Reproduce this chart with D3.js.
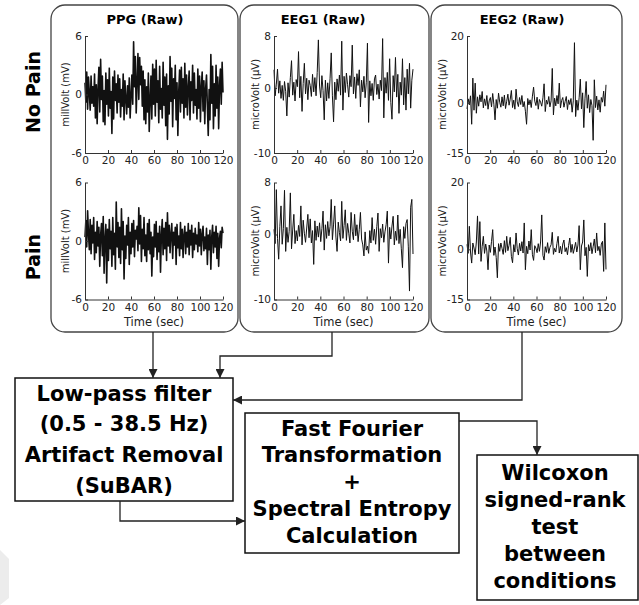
<!DOCTYPE html>
<html>
<head>
<meta charset="utf-8">
<script src="https://cdn.jsdelivr.net/npm/d3@7"></script>
<style>
    body { margin: 0; background: #fff; }
    text { font-family: "DejaVu Sans", Verdana, sans-serif; }
</style>
</head>
<body>
<div id="chart"></div>
<script>
// signal traces (values spread evenly over 0 - 120 sec)
var ppgNoPain = [
    1.2,-0.8,2.3,-1.5,1.8,0.2,-1.6,1.9,-0.9,0.8, -1.2,2.1,-2.4,1.0,-3.0,0.6,2.8,-1.8,3.6,-0.5,
    1.9,-2.8,0.4,-3.1,2.2,-1.0,1.5,-2.2,2.7,-1.4, 0.3,-4.0,1.8,-2.5,2.4,-0.6,1.1,-1.9,2.0,-0.8,
    1.6,-2.3,0.5,-1.2,2.1,-2.6,1.4,-0.4,-2.0,0.9, -1.3,1.7,-2.4,-0.2,2.0,-1.0,5.4,0.8,3.9,-1.9,
    1.2,4.2,-0.5,3.8,1.0,2.9,-1.2,2.4,-2.6,1.5, -3.0,0.8,-1.8,2.2,-3.8,-0.6,1.9,-2.5,3.1,-1.0,
    2.6,-2.2,3.5,-0.8,1.4,-2.9,2.9,-1.5,0.6,-2.4, 3.3,-1.1,1.8,-3.2,2.1,-4.6,0.9,-2.0,3.9,-0.7,
    2.7,-3.3,1.6,-0.4,3.0,-2.6,1.2,-4.2,0.3,2.5, -1.8,2.8,-0.9,1.6,-2.4,3.2,-1.3,2.0,-2.1,0.7,
    2.4,-2.6,1.3,-0.6,3.0,-1.9,2.2,-1.1,0.5,-2.5, 2.6,-1.4,1.9,-2.8,0.8,2.3,-1.7,1.4,-3.0,0.6,
    2.0,-1.2,-4.2,0.5,-2.6,4.1,-0.9,2.9,-3.5,1.1, -2.2,3.0,-1.4,1.8,-3.5,0.9,2.6,-1.0,3.3,0.2
];
var ppgPain = [
    0.4,2.1,-0.6,3.1,0.8,-0.9,2.2,-1.3,1.6,-0.2, 2.4,-1.9,0.9,-1.2,2.0,-0.5,1.4,-2.6,0.6,1.8,
    -1.5,2.5,-3.3,0.2,1.7,-4.3,1.2,-2.0,2.2,-0.8, 1.0,-2.6,2.4,-1.4,0.8,-2.9,4.0,-0.6,1.9,-1.7,
    1.4,-2.3,3.3,-0.9,2.0,-3.9,0.5,-1.8,1.6,-0.4, 2.4,-2.4,0.9,-1.3,1.8,-0.6,2.1,-1.6,1.1,0.2,
    1.5,-1.0,3.4,-0.3,2.6,-2.1,1.2,-0.8,2.4,-1.5, 0.6,-2.1,1.8,-0.9,2.2,-1.3,0.9,-3.6,0.4,-1.6,
    1.7,-0.6,2.0,-1.9,0.8,-1.1,1.5,-3.2,0.6,2.2, -1.4,1.3,-0.8,1.9,-2.0,2.9,-0.5,1.6,-1.2,0.7,
    1.8,-1.8,0.9,-0.4,1.4,-2.4,1.7,-0.7,0.5,-1.5, 1.9,-0.8,1.2,-1.7,0.6,1.5,-1.3,0.9,-0.6,1.8,
    -1.4,1.1,-0.4,1.6,-1.7,0.8,-0.9,1.3,-0.3,0.6, -1.1,1.9,-0.5,1.2,-1.4,0.7,1.5,-1.0,0.4,-0.8,
    1.3,-2.4,0.6,-0.9,1.1,-2.9,0.4,1.6,-1.2,0.9, -0.6,1.5,-1.8,0.8,-2.6,0.3,1.0,-0.7,1.4,0.8
];
var eeg1NoPain = [
    2.8,-1.2,0.6,2.9,-0.8,1.1,-1.6,0.4,-1.9,1.0, -0.5,-4.3,0.8,-1.4,1.6,4.2,-1.1,0.9,-2.0,1.3,
    0.2,5.6,-1.5,1.8,-3.6,0.7,3.8,-0.9,1.5,-1.8, 1.2,0.4,-1.3,2.1,-0.6,1.6,-1.2,2.4,7.4,0.3,
    -1.5,1.9,-0.4,-4.9,1.2,-2.0,0.8,-1.6,1.5,5.4, -1.2,-5.2,0.9,-1.8,1.4,-0.5,2.0,-1.1,7.2,-3.4,
    1.8,-0.7,2.3,0.5,-1.4,1.9,0.2,6.6,-0.9,1.7, -1.6,2.2,0.4,2.8,-2.9,1.2,-0.6,1.8,-1.5,0.8,
    6.9,-5.3,1.1,-1.2,0.7,-1.9,1.4,2.0,-1.0,0.6, -1.7,1.2,-0.4,7.6,-4.6,1.6,-0.8,2.4,-1.9,4.5,
    -2.2,-4.8,1.9,-0.6,4.7,-1.4,2.1,-3.9,0.9,-1.1, 4.5,-2.6,1.6,-3.4,2.9,-0.9,3.8,-3.1,1.2,2.9
];
var eeg1Pain = [
    0.8,-1.4,6.9,-0.6,-3.8,1.2,4.4,-1.5,0.9,6.8, -2.6,1.1,-1.2,0.5,6.4,-2.2,0.7,3.1,-1.4,0.6,
    -1.0,1.4,-0.3,4.4,-1.6,2.2,0.2,-1.2,1.0,3.1, -0.5,2.4,-1.3,0.6,-4.6,2.1,-0.9,1.3,-0.4,1.8,
    -1.1,0.9,3.6,-2.4,1.5,-0.6,2.0,-0.2,1.2,5.4, -0.8,1.6,4.4,-0.4,-2.6,1.9,0.3,-1.0,5.1,-0.6,
    1.4,3.8,-0.9,1.7,0.2,-1.3,3.4,0.5,-0.8,3.1, -0.2,1.5,-1.1,0.8,3.4,-0.7,-1.6,-3.3,0.4,-2.4,
    -1.8,-2.9,0.6,-1.3,2.6,-0.9,0.8,-1.5,1.2,3.3, -2.6,0.9,-0.5,1.6,-1.2,0.4,1.5,3.6,-4.4,1.1,
    -0.7,1.3,2.8,-1.6,0.5,-0.9,3.0,-1.4,0.8,-2.2, -5.1,1.2,-0.6,1.7,2.3,-1.9,-8.7,4.2,5.4,-3.0
];
var eeg2NoPain = [
    -1.8,1.2,-0.6,2.1,-6.4,7.4,-2.2,5.9,-3.1,1.8, -1.0,2.4,0.3,3.4,-1.5,1.2,-0.8,2.2,-1.9,0.6,
    1.6,-1.2,2.8,-0.4,-5.1,1.0,-1.6,2.9,0.2,-1.3, 1.8,-0.9,2.3,-1.7,0.5,2.6,-0.7,1.1,3.7,-1.4,
    0.8,-1.9,4.1,0.3,-1.1,1.6,-0.5,2.2,-1.2,0.4, -2.5,-6.4,1.3,-0.6,0.9,-1.4,2.0,4.7,0.5,-0.8,
    1.7,-1.9,1.0,0.2,-1.0,1.5,5.7,-2.6,0.8,-0.4, 1.9,-1.2,0.6,10.3,-3.6,1.4,-0.9,2.2,-0.3,5.9,
    -1.5,0.7,1.6,-1.3,0.4,1.9,-2.0,0.9,-0.5,1.3, -2.8,0.6,18.0,-4.1,0.8,-2.2,1.5,7.1,-1.8,3.0,
    -7.4,1.2,6.4,-1.6,2.4,-2.9,1.0,-0.8,-11.2,6.9, -1.4,2.0,-2.1,0.9,-2.8,1.6,0.2,3.5,-1.0,5.4
];
var eeg2Pain = [
    1.5,-1.2,6.9,-0.8,-4.1,1.9,0.4,-1.6,2.2,10.0, -1.4,8.3,-3.6,0.9,3.9,-1.2,1.6,-0.5,-6.1,1.3,
    -0.9,2.4,5.9,-1.8,0.7,-2.4,-8.5,1.7,-0.6,1.9, 0.3,-1.5,2.6,-0.9,3.9,-0.4,1.2,3.6,-2.1,-4.0,
    1.4,-0.8,4.9,0.2,-1.7,1.8,-0.5,2.3,-1.1,7.9, -6.1,0.9,-1.3,2.5,-0.2,5.9,-1.6,-3.3,1.1,0.4,
    -1.0,1.7,-0.6,2.2,10.3,-1.8,-3.2,0.8,-0.9,2.0, -1.2,0.6,1.4,5.1,-1.5,0.3,-0.8,1.8,3.9,-1.1,
    0.9,-1.4,1.6,2.8,-0.7,0.5,-1.6,1.2,3.4,-0.9, 1.5,-1.2,0.4,2.1,-0.8,1.3,7.1,-6.1,1.0,2.2,
    8.8,-1.9,0.6,-8.1,1.4,-0.5,2.0,-1.3,0.8,3.1, -1.0,4.9,-0.4,0.9,-1.8,1.6,2.4,-6.6,7.9,-6.0
];

var timeTicks = [0, 20, 40, 60, 80, 100, 120];
var ppgTicks = [-6, 0, 6];
var eeg1Ticks = [-10, 0, 8];
var eeg2Ticks = [-15, 0, 20];
var titles = ["PPG (Raw)", "EEG1 (Raw)", "EEG2 (Raw)"];
var unitLabels = ["millVolt (mV)", "microVolt (\u03bcV)", "microVolt (\u03bcV)"];
var conditions = ["No Pain", "Pain"];
var filterLines = ["Low-pass filter", "(0.5 - 38.5 Hz)", "Artifact Removal", "(SuBAR)"];
var fftLines = ["Fast Fourier", "Transformation", "+", "Spectral Entropy", "Calculation"];
var testLines = ["Wilcoxon", "signed-rank", "test", "between", "conditions"];

var width = 639, height = 605;
var svg = d3.select("#chart").append("svg")
    .attr("width", width)
    .attr("height", height);

svg.append("defs").append("marker")
    .attr("id", "arrow")
    .attr("markerUnits", "userSpaceOnUse")
    .attr("viewBox", "0 0 10 10")
    .attr("refX", 10).attr("refY", 5)
    .attr("markerWidth", 10).attr("markerHeight", 9)
    .attr("orient", "auto")
    .append("path")
    .attr("d", "M0,0 L10,5 L0,10 z")
    .attr("fill", "#222");

// faint mark bottom left
svg.append("path")
    .attr("d", "M0,550 L9,559 L9,598 L0,605 Z")
    .attr("fill", "#ececec");

// panel frames
var columns = [
    { x0: 51, x1: 238, ax0: 85, ax1: 223, ticks: ppgTicks, data: [ppgNoPain, ppgPain], lw: 1.6, labelX: 65, titleX: 145 },
    { x0: 240, x1: 429, ax0: 274, ax1: 413, ticks: eeg1Ticks, data: [eeg1NoPain, eeg1Pain], lw: 1.0, labelX: 255, titleX: 323 },
    { x0: 431, x1: 622, ax0: 467, ax1: 606, ticks: eeg2Ticks, data: [eeg2NoPain, eeg2Pain], lw: 1.0, labelX: 442, titleX: 522 }
];
var rows = [{ y0: 36, y1: 153 }, { y0: 182.5, y1: 299.5 }];

columns.forEach(function (c, ci) {
    svg.append("rect")
        .attr("x", c.x0).attr("y", 5)
        .attr("width", c.x1 - c.x0).attr("height", 327)
        .attr("rx", 14).attr("ry", 14)
        .attr("fill", "none")
        .attr("stroke", "#444")
        .attr("stroke-width", 1.3);

    svg.append("text")
        .attr("x", c.titleX).attr("y", 24)
        .attr("text-anchor", "middle")
        .style("font-size", "13px")
        .style("font-weight", "bold")
        .text(titles[ci]);

    rows.forEach(function (r, ri) {
        var values = c.data[ri];
        var n = values.length;
        var x = d3.scaleLinear().domain([0, 120]).range([c.ax0, c.ax1]);
        var y = d3.scaleLinear().domain([c.ticks[0], c.ticks[2]]).range([r.y1, r.y0]);

        var line = d3.line()
            .x(function (d, i) { return x(i * 120 / (n - 1)); })
            .y(function (d) { return y(d); });

        svg.append("path")
            .datum(values)
            .attr("d", line)
            .attr("fill", "none")
            .attr("stroke", "#111")
            .attr("stroke-width", c.lw)
            .attr("stroke-linejoin", "round");

        var gx = svg.append("g")
            .attr("transform", "translate(0," + r.y1 + ")")
            .call(d3.axisBottom(x).tickValues(timeTicks).tickSizeInner(-3).tickSizeOuter(0).tickPadding(4));
        var gy = svg.append("g")
            .attr("transform", "translate(" + c.ax0 + ",0)")
            .call(d3.axisLeft(y).tickValues(c.ticks).tickFormat(function (d) { return String(d); })
                .tickSizeInner(-3).tickSizeOuter(0).tickPadding(3));

        [gx, gy].forEach(function (g) {
            g.select(".domain").attr("stroke", "#333");
            g.selectAll(".tick line").attr("stroke", "#333");
            g.selectAll(".tick text")
                .attr("fill", "#222")
                .style("font-family", "'DejaVu Sans', Verdana, sans-serif")
                .style("font-size", "10.5px");
        });

        svg.append("text")
            .attr("transform", "translate(" + c.labelX + "," + ((r.y0 + r.y1) / 2) + ") rotate(-90)")
            .attr("text-anchor", "middle")
            .attr("dy", "0.35em")
            .attr("fill", "#222")
            .style("font-size", "10px")
            .text(unitLabels[ci]);

        if (ri == 1) {
            svg.append("text")
                .attr("x", (c.ax0 + c.ax1) / 2).attr("y", 326)
                .attr("text-anchor", "middle")
                .attr("fill", "#222")
                .style("font-size", "11.5px")
                .text("Time (sec)");
        }
    });
});

// row labels
[92, 257].forEach(function (cy, i) {
    svg.append("text")
        .attr("transform", "translate(33," + cy + ") rotate(-90)")
        .attr("text-anchor", "middle")
        .attr("dy", "0.35em")
        .style("font-size", "19px")
        .style("font-weight", "bold")
        .text(conditions[i]);
});

// processing boxes
function box(x0, y0, x1, y1, lines, cx, firstY, step) {
    svg.append("rect")
        .attr("x", x0).attr("y", y0)
        .attr("width", x1 - x0).attr("height", y1 - y0)
        .attr("fill", "#fff")
        .attr("stroke", "#111")
        .attr("stroke-width", 1.5);
    svg.selectAll(null)
        .data(lines)
        .enter().append("text")
        .attr("x", cx)
        .attr("y", function (d, i) { return firstY + i * step; })
        .attr("dy", "0.36em")
        .attr("text-anchor", "middle")
        .style("font-size", "21px")
        .style("font-weight", "bold")
        .text(function (d) { return d; });
}

box(15, 378, 233, 501, filterLines, 124, 393, 30.7);
box(245, 413, 459, 553, fftLines, 352, 428, 26.8);
box(477, 455, 638, 600, testLines, 555, 472, 27);

// connectors
var arrows = [
    [[153, 332], [153, 378]],
    [[332, 332], [332, 356], [220, 356], [220, 378]],
    [[522, 332], [522, 400], [233, 400]],
    [[120, 501], [120, 521], [245, 521]],
    [[459, 421], [537, 421], [537, 455]]
];
svg.selectAll(".conn")
    .data(arrows)
    .enter().append("path")
    .attr("class", "conn")
    .attr("d", d3.line())
    .attr("fill", "none")
    .attr("stroke", "#222")
    .attr("stroke-width", 1.3)
    .attr("marker-end", "url(#arrow)");
</script>
</body>
</html>
